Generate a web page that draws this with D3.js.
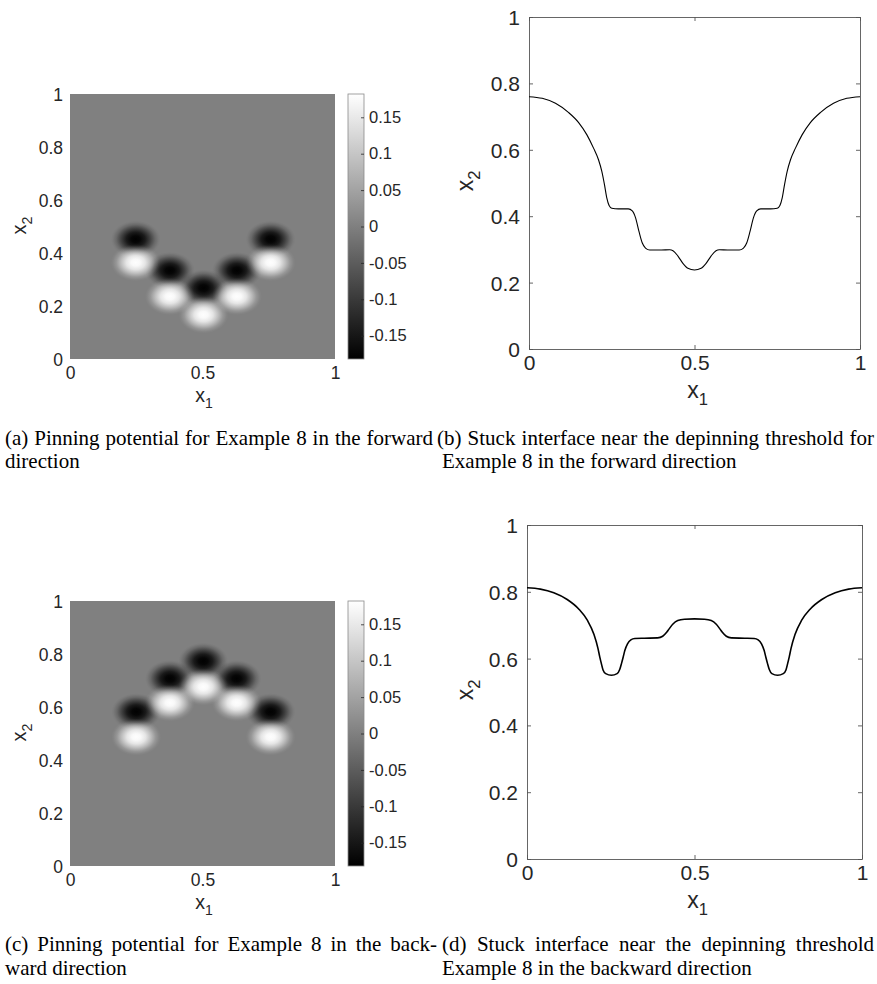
<!DOCTYPE html>
<html>
<head>
<meta charset="utf-8">
<script src="https://cdn.jsdelivr.net/npm/d3@7/dist/d3.min.js"></script>
<style>
  html, body { margin: 0; padding: 0; background: #fff; }
  svg { display: block; }
  .cap { font-family: "Liberation Serif", "Times New Roman", serif; fill: #000; }
</style>
</head>
<body>
<svg id="fig" width="877" height="984"></svg>
<script>
// ---------------- data ----------------
const xTicks = [0, 0.5, 1];
const yTicks = [0, 0.2, 0.4, 0.6, 0.8, 1];
const cbarTicks = [-0.15, -0.1, -0.05, 0, 0.05, 0.1, 0.15];
const cbarRange = [-0.182, 0.182];

// pinning potential lobes (a): dark (negative) above, light (positive) below
const wellsA_x      = [0.248, 0.377, 0.504, 0.630, 0.757];
const wellsA_darkY  = [0.452, 0.334, 0.268, 0.334, 0.452];
const wellsA_lightY = [0.364, 0.236, 0.167, 0.236, 0.364];
// pinning potential lobes (c)
const wellsC_x      = [0.250, 0.377, 0.503, 0.629, 0.757];
const wellsC_darkY  = [0.582, 0.707, 0.773, 0.707, 0.582];
const wellsC_lightY = [0.487, 0.616, 0.676, 0.616, 0.487];
const lobePeak = 0.18;

// stuck interface (b)
const interfaceB_x = [0, 0.04, 0.08, 0.12, 0.15, 0.175, 0.195, 0.21, 0.22, 0.228, 0.235, 0.242, 0.25, 0.27, 0.30,
  0.312, 0.322, 0.332, 0.342, 0.352, 0.365, 0.40, 0.425, 0.435, 0.45, 0.465, 0.48, 0.50,
  0.52, 0.535, 0.55, 0.565, 0.575, 0.60, 0.635, 0.648, 0.658, 0.668, 0.678, 0.688, 0.70, 0.73, 0.75,
  0.758, 0.765, 0.772, 0.78, 0.79, 0.805, 0.825, 0.85, 0.88, 0.92, 0.96, 1];
const interfaceB_y = [0.760, 0.755, 0.740, 0.712, 0.682, 0.645, 0.605, 0.570, 0.535, 0.495, 0.455, 0.432, 0.424, 0.422, 0.422,
  0.416, 0.395, 0.355, 0.320, 0.304, 0.298, 0.298, 0.299, 0.296, 0.280, 0.258, 0.243, 0.238,
  0.243, 0.258, 0.280, 0.296, 0.299, 0.298, 0.298, 0.304, 0.320, 0.355, 0.395, 0.416, 0.422, 0.422, 0.424,
  0.432, 0.455, 0.495, 0.535, 0.570, 0.605, 0.645, 0.682, 0.712, 0.740, 0.755, 0.760];

// stuck interface (d)
const interfaceD_x = [0, 0.04, 0.08, 0.12, 0.155, 0.18, 0.20, 0.212, 0.217, 0.222, 0.227, 0.235, 0.252, 0.269, 0.277,
  0.282, 0.287, 0.292, 0.30, 0.31, 0.322, 0.35, 0.39, 0.405, 0.42, 0.435, 0.45, 0.47, 0.50,
  0.53, 0.55, 0.565, 0.58, 0.595, 0.61, 0.65, 0.678, 0.69, 0.70, 0.708, 0.713, 0.718, 0.723, 0.731, 0.748, 0.765, 0.773,
  0.778, 0.783, 0.788, 0.80, 0.82, 0.845, 0.88, 0.92, 0.96, 1];
const interfaceD_y = [0.812, 0.808, 0.797, 0.777, 0.748, 0.715, 0.672, 0.630, 0.606, 0.585, 0.566, 0.555, 0.550, 0.555, 0.568,
  0.585, 0.604, 0.624, 0.644, 0.656, 0.660, 0.661, 0.662, 0.667, 0.683, 0.703, 0.714, 0.718, 0.719,
  0.718, 0.714, 0.703, 0.683, 0.667, 0.662, 0.661, 0.660, 0.656, 0.644, 0.624, 0.604, 0.585, 0.568, 0.555, 0.550, 0.555, 0.566,
  0.585, 0.606, 0.630, 0.672, 0.715, 0.748, 0.777, 0.797, 0.808, 0.812];

const captionA = ["(a) Pinning potential for Example 8 in the forward", "direction"];
const captionB = ["(b) Stuck interface near the depinning threshold for", "Example 8 in the forward direction"];
const captionC = ["(c) Pinning potential for Example 8 in the back-", "ward direction"];
const captionD = ["(d) Stuck interface near the depinning threshold", "Example 8 in the backward direction"];

// ---------------- drawing ----------------
const svg = d3.select("#fig");
const defs = svg.append("defs");
const color = d3.scaleLinear().domain(cbarRange).range(["#000000", "#ffffff"]).clamp(true);

function lobeGradient(id, c) {
  const g = defs.append("radialGradient").attr("id", id);
  [[0, 1], [0.18, 0.96], [0.38, 0.8], [0.58, 0.5], [0.78, 0.18], [0.92, 0.04], [1, 0]].forEach(([o, a]) =>
    g.append("stop").attr("offset", o).attr("stop-color", c).attr("stop-opacity", a));
}
lobeGradient("lobeDark", color(-lobePeak));
lobeGradient("lobeLight", color(lobePeak));

const cg = defs.append("linearGradient").attr("id", "cbarGrad")
  .attr("x1", 0).attr("y1", 1).attr("x2", 0).attr("y2", 0);
cg.append("stop").attr("offset", 0).attr("stop-color", color(cbarRange[0]));
cg.append("stop").attr("offset", 1).attr("stop-color", color(cbarRange[1]));

const axisFont = '"Liberation Sans", Arial, Helvetica, sans-serif';

function styleAxis(g, fs) {
  g.attr("font-size", fs).attr("font-family", axisFont);
  g.selectAll("text").attr("font-size", fs).attr("font-family", axisFont).attr("fill", "#262626");
}

function addLabel(g, x, y, sub, fs, rotate) {
  const t = g.append("text").attr("font-family", axisFont).attr("font-size", fs).attr("fill", "#262626")
    .attr("text-anchor", "middle");
  if (rotate) t.attr("transform", `translate(${x},${y}) rotate(-90)`);
  else t.attr("x", x).attr("y", y);
  t.append("tspan").text("x");
  t.append("tspan").attr("font-size", fs * 0.72).attr("dy", fs * 0.3).text(sub);
}

function heatmap(top, xs, darkY, lightY) {
  const left = 70, size = 265;
  const x = d3.scaleLinear().domain([0, 1]).range([left, left + size]);
  const y = d3.scaleLinear().domain([0, 1]).range([top + size, top]);
  const g = svg.append("g");
  const clipId = "clip" + top;
  defs.append("clipPath").attr("id", clipId).append("rect")
    .attr("x", left).attr("y", top).attr("width", size).attr("height", size);
  const img = g.append("g").attr("clip-path", `url(#${clipId})`);
  img.append("rect").attr("x", x(0)).attr("y", y(1)).attr("width", x(1) - x(0)).attr("height", y(0) - y(1))
    .attr("fill", color(0));
  const rx = 0.094, ry = 0.07;
  const lobes = xs.map((cx, i) => ({cx, cy: darkY[i], id: "lobeDark"}))
    .concat(xs.map((cx, i) => ({cx, cy: lightY[i], id: "lobeLight"})));
  img.selectAll("ellipse").data(lobes).join("ellipse")
    .attr("cx", d => x(d.cx)).attr("cy", d => y(d.cy))
    .attr("rx", x(rx) - x(0)).attr("ry", y(0) - y(ry))
    .attr("fill", d => `url(#${d.id})`);

  const ax = g.append("g").attr("transform", `translate(0,${top + size})`)
    .call(d3.axisBottom(x).tickValues(xTicks).tickFormat(d => String(d)).tickSize(0).tickPadding(8));
  ax.select(".domain").remove(); styleAxis(ax, 17.5);
  const ay = g.append("g").attr("transform", `translate(${left},0)`)
    .call(d3.axisLeft(y).tickValues(yTicks).tickFormat(d => String(d)).tickSize(0).tickPadding(7));
  ay.select(".domain").remove(); styleAxis(ay, 17.5);
  ay.selectAll("text").attr("dy", "0.36em");

  addLabel(g, 204, top + size + 43, "1", 19.5, false);
  addLabel(g, 26, top + size / 2 - 1, "2", 20, true);

  // colorbar
  const cx0 = 348, cw = 16;
  const cy = d3.scaleLinear().domain(cbarRange).range([top + size, top]);
  g.append("rect").attr("x", cx0).attr("y", cy(cbarRange[1])).attr("width", cw)
    .attr("height", cy(cbarRange[0]) - cy(cbarRange[1])).attr("fill", "url(#cbarGrad)")
    .attr("stroke", "#8a8a8a").attr("stroke-width", 0.8);
  const ac = g.append("g").attr("transform", `translate(${cx0 + cw},0)`)
    .call(d3.axisRight(cy).tickValues(cbarTicks).tickFormat(d => String(d)).tickSizeInner(-3).tickSizeOuter(0).tickPadding(5));
  ac.select(".domain").remove();
  ac.selectAll("line").attr("stroke", "#262626").attr("stroke-width", 0.8);
  styleAxis(ac, 16.5);
}

function linePlot(top, left, w, h, xsData, ysData, lw) {
  const x = d3.scaleLinear().domain([0, 1]).range([left, left + w]);
  const y = d3.scaleLinear().domain([0, 1]).range([top + h, top]);
  const g = svg.append("g");
  const fs = 21;
  const mk = (axis, tr, labels) => {
    const a = g.append("g").attr("transform", tr).call(axis);
    a.select(".domain").attr("stroke", "#555").attr("stroke-width", 0.9);
    a.selectAll("line").attr("stroke", "#555").attr("stroke-width", 0.9);
    if (!labels) a.selectAll("text").remove(); else styleAxis(a, fs);
    return a;
  };
  mk(d3.axisBottom(x).tickValues(xTicks).tickFormat(d => String(d)).tickSizeInner(-4).tickSizeOuter(0).tickPadding(6),
     `translate(0,${top + h})`, true);
  mk(d3.axisTop(x).tickValues(xTicks).tickSizeInner(-4).tickSizeOuter(0), `translate(0,${top})`, false);
  const al = mk(d3.axisLeft(y).tickValues(yTicks).tickFormat(d => String(d)).tickSizeInner(-4).tickSizeOuter(0).tickPadding(9),
     `translate(${left},0)`, true);
  al.selectAll("text").attr("dy", "0.36em");
  mk(d3.axisRight(y).tickValues(yTicks).tickSizeInner(-4).tickSizeOuter(0), `translate(${left + w},0)`, false);

  const pts = xsData.map((v, i) => [v, ysData[i]]);
  g.append("path").datum(pts)
    .attr("d", d3.line().x(d => x(d[0])).y(d => y(d[1])).curve(d3.curveMonotoneX))
    .attr("fill", "none").attr("stroke", "#000").attr("stroke-width", lw);

  addLabel(g, left + w / 2 + 3, top + h + 49, "1", 23, false);
  addLabel(g, 473, top + h / 2 - 2, "2", 23, true);
}

heatmap(94, wellsA_x, wellsA_darkY, wellsA_lightY);
heatmap(601, wellsC_x, wellsC_darkY, wellsC_lightY);
linePlot(17, 529, 331, 332, interfaceB_x, interfaceB_y, 1.1);
linePlot(525, 527, 335, 334, interfaceD_x, interfaceD_y, 1.6);

// ---------------- captions ----------------
const capFs = 21;
function captionLine(text, x0, x1, y) {
  const words = text.split(" ");
  const g = svg.append("g");
  const nodes = words.map(wd => g.append("text").attr("class", "cap").attr("font-size", capFs).attr("y", y).text(wd));
  const widths = nodes.map(n => n.node().getComputedTextLength());
  const total = d3.sum(widths);
  const natGap = capFs * 0.25;
  let gap = natGap, scale = 1;
  if (x1 != null) {
    const avail = x1 - x0;
    gap = (avail - total) / (words.length - 1);
    const minGap = capFs * 0.22;
    if (gap < minGap) {
      gap = minGap;
      scale = (avail - gap * (words.length - 1)) / total;
    }
  }
  let cx = x0;
  nodes.forEach((n, i) => {
    const w = widths[i] * scale;
    n.attr("x", cx);
    if (scale !== 1) n.attr("textLength", w).attr("lengthAdjust", "spacingAndGlyphs");
    cx += w + gap;
  });
}
captionLine(captionA[0], 5, 433, 445);
captionLine(captionA[1], 5, null, 468);
captionLine(captionB[0], 437, 874, 445);
captionLine(captionB[1], 442, null, 468);
captionLine(captionC[0], 5, 437, 951);
captionLine(captionC[1], 5, null, 975);
captionLine(captionD[0], 442, 874, 951);
captionLine(captionD[1], 442, null, 975);
</script>
</body>
</html>
